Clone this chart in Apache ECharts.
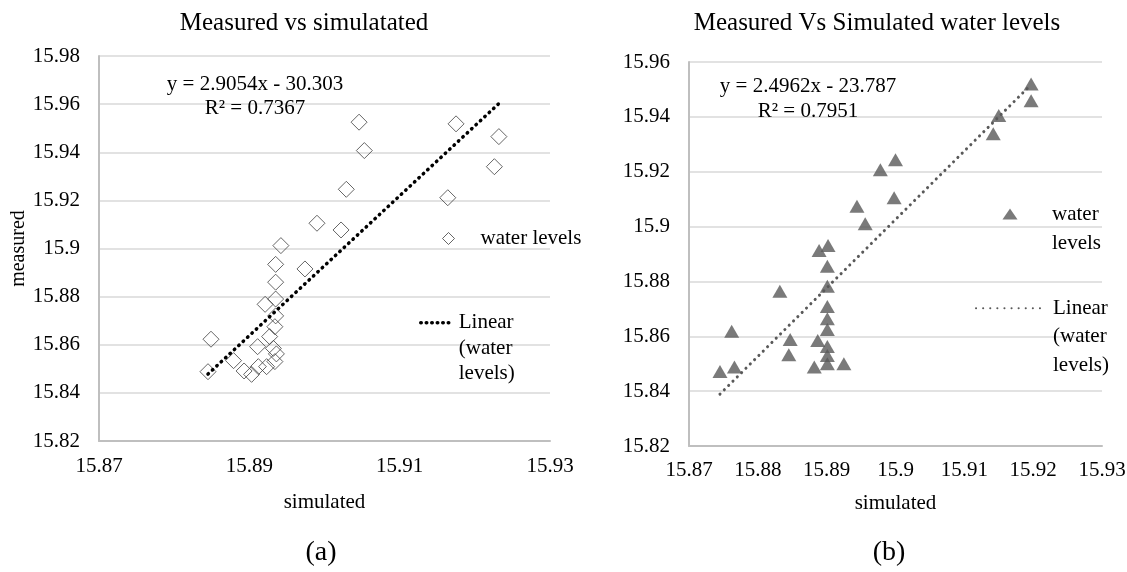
<!DOCTYPE html>
<html>
<head>
<meta charset="utf-8">
<script src="https://cdn.jsdelivr.net/npm/echarts@6/dist/echarts.min.js"></script>
<style>
  html, body { margin: 0; padding: 0; background: #fff; }
  #chart { width: 1127px; height: 572px; }
</style>
</head>
<body>
<div id="chart"></div>
<script>
// (a) measured vs simulated water levels
const simulatedA = [15.8990, 15.9022, 15.8942, 15.8935, 15.8935, 15.8974, 15.8935, 15.8921,
  15.8935, 15.8934, 15.8927, 15.8911, 15.8932, 15.8936, 15.8934, 15.8923, 15.8912, 15.8893,
  15.8903, 15.8879, 15.8849, 15.8845, 15.9046, 15.9053, 15.9029, 15.9175, 15.9232, 15.9226, 15.9164];
const measuredA = [15.9105, 15.9077, 15.9012, 15.8934, 15.8860, 15.8915, 15.8790, 15.8768,
  15.8720, 15.8675, 15.8634, 15.8592, 15.8585, 15.8562, 15.8530, 15.8509, 15.8509, 15.8491,
  15.8477, 15.8534, 15.8623, 15.8488, 15.9525, 15.9407, 15.9246, 15.9518, 15.9465, 15.9340, 15.9211];
const slopeA = 2.9054;
const interceptA = -30.303;
const r2A = 0.7367;
const xTicksA = [15.87, 15.89, 15.91, 15.93];

// (b) measured vs simulated water levels
const simulatedB = [15.8889, 15.8902, 15.8901, 15.8901, 15.8832, 15.8901, 15.8901, 15.8901,
  15.8762, 15.8847, 15.8887, 15.8901, 15.8845, 15.8901, 15.8901, 15.8925, 15.8882, 15.8766,
  15.8745, 15.9197, 15.9197, 15.9150, 15.9142, 15.9000, 15.8978, 15.8998, 15.8944, 15.8956];
const measuredB = [15.8913, 15.8931, 15.8855, 15.8782, 15.8764, 15.8709, 15.8664, 15.8625,
  15.8618, 15.8588, 15.8585, 15.8563, 15.8533, 15.8530, 15.8500, 15.8500, 15.8488, 15.8488,
  15.8472, 15.9520, 15.9459, 15.9405, 15.9338, 15.9244, 15.9207, 15.9105, 15.9074, 15.9010];
const slopeB = 2.4962;
const interceptB = -23.787;
const r2B = 0.7951;

const SERIF = "'Liberation Serif', 'Times New Roman', serif";

const pairs = (xs, ys) => xs.map((x, i) => [x, ys[i]]);
// linear trendline spanning the simulated range
function trend(xs, slope, intercept) {
  const lo = Math.min(...xs), hi = Math.max(...xs);
  return [[lo, slope * lo + intercept], [hi, slope * hi + intercept]];
}
const eqText = (slope, intercept, r2) =>
  `y = ${slope}x ${intercept < 0 ? '-' : '+'} ${Math.abs(intercept)}\nR\u00B2 = ${r2}`;
// legend text is centred on its icon; leading blank lines keep the icon level with the first line
const firstLineOnIcon = lines => '\n'.repeat(lines.length - 1) + lines.join('\n');

const axisLineStyle = { show: true, lineStyle: { color: '#bfbfbf', width: 2 } };
const gridLine = { show: true, lineStyle: { color: '#d9d9d9', width: 1.5 } };
const tickText = { color: '#000', fontFamily: SERIF, fontSize: 21 };

const chart = echarts.init(document.getElementById('chart'), null, { renderer: 'canvas' });

chart.setOption({
  animation: false,
  backgroundColor: '#fff',
  textStyle: { fontFamily: SERIF },
  title: [
    { text: 'Measured vs simulatated', left: 304, top: 11, textAlign: 'center', padding: 0,
      textStyle: { fontFamily: SERIF, fontSize: 25, fontWeight: 'normal', color: '#000' } },
    { text: 'Measured Vs Simulated water levels', left: 877, top: 11, textAlign: 'center', padding: 0,
      textStyle: { fontFamily: SERIF, fontSize: 25, fontWeight: 'normal', color: '#000' } },
    { text: eqText(slopeA, interceptA, r2A), left: 255, top: 72, textAlign: 'center', padding: 0,
      textStyle: { fontFamily: SERIF, fontSize: 21, fontWeight: 'normal', color: '#000', lineHeight: 24 } },
    { text: eqText(slopeB, interceptB, r2B), left: 808, top: 74, textAlign: 'center', padding: 0,
      textStyle: { fontFamily: SERIF, fontSize: 21, fontWeight: 'normal', color: '#000', lineHeight: 25 } },
    { text: '(a)', left: 321, top: 539, textAlign: 'center', padding: 0,
      textStyle: { fontFamily: SERIF, fontSize: 28, fontWeight: 'normal', color: '#000' } },
    { text: '(b)', left: 889, top: 539, textAlign: 'center', padding: 0,
      textStyle: { fontFamily: SERIF, fontSize: 28, fontWeight: 'normal', color: '#000' } }
  ],
  legend: [
    { data: ['levelsA'], left: 442, top: 228, padding: 0, itemWidth: 12, itemHeight: 12,
      selectedMode: false, formatter: () => 'water levels',
      itemStyle: { borderWidth: 1, borderColor: '#404040', color: 'rgba(0,0,0,0)' },
      textStyle: { color: '#000', fontFamily: SERIF, fontSize: 21, padding: [0, 0, 0, 21] } },
    { data: ['linearA'], left: 419, top: 259, padding: 0, itemWidth: 33, itemHeight: 14,
      selectedMode: false, formatter: () => firstLineOnIcon(['Linear', '(water', 'levels)']),
      itemStyle: { opacity: 0 },
      lineStyle: { color: '#000', width: 3.5, type: [0.5, 5], cap: 'round' },
      textStyle: { color: '#000', fontFamily: SERIF, fontSize: 21, lineHeight: 25.5 } },
    { data: ['levelsB'], left: 1002.5, top: 170.5, padding: 0, itemWidth: 15, itemHeight: 11,
      symbolKeepAspect: false, selectedMode: false, formatter: () => firstLineOnIcon(['water', 'levels']),
      itemStyle: { borderWidth: 0, color: '#595959' },
      textStyle: { color: '#000', fontFamily: SERIF, fontSize: 21, lineHeight: 29, padding: [0, 0, 0, 29.5] } },
    { data: ['linearB'], left: 975, top: 237, padding: 0, itemWidth: 68, itemHeight: 14,
      selectedMode: false, formatter: () => firstLineOnIcon(['Linear', '(water', 'levels)']),
      itemStyle: { opacity: 0 },
      lineStyle: { color: '#595959', width: 2, type: [0.1, 7], cap: 'round' },
      textStyle: { color: '#000', fontFamily: SERIF, fontSize: 21, lineHeight: 28.5, padding: [0, 0, 0, 4] } }
  ],
  grid: [
    { left: 99, top: 56, width: 451, height: 385, outerBoundsMode: 'none' },
    { left: 689, top: 62, width: 413, height: 384, outerBoundsMode: 'none' }
  ],
  xAxis: [
    { type: 'value', gridIndex: 0, min: 15.87, max: 15.93, interval: 0.01,
      name: 'simulated', nameLocation: 'middle', nameGap: 51,
      nameTextStyle: { color: '#000', fontFamily: SERIF, fontSize: 21 },
      axisLine: axisLineStyle, axisTick: { show: false }, splitLine: { show: false },
      axisLabel: Object.assign({ margin: 15,
        formatter: v => xTicksA.some(t => Math.abs(t - v) < 1e-6) ? v.toFixed(2) : '' }, tickText) },
    { type: 'value', gridIndex: 1, min: 15.87, max: 15.93, interval: 0.01,
      name: 'simulated', nameLocation: 'middle', nameGap: 47,
      nameTextStyle: { color: '#000', fontFamily: SERIF, fontSize: 21 },
      axisLine: axisLineStyle, axisTick: { show: false }, splitLine: { show: false },
      axisLabel: Object.assign({ margin: 14 }, tickText) }
  ],
  yAxis: [
    { type: 'value', gridIndex: 0, min: 15.82, max: 15.98, interval: 0.02,
      name: 'measured', nameLocation: 'middle', nameGap: 68, nameRotate: 90,
      nameTextStyle: { color: '#000', fontFamily: SERIF, fontSize: 20 },
      axisLine: axisLineStyle, axisTick: { show: false }, splitLine: gridLine,
      axisLabel: Object.assign({ margin: 19 }, tickText) },
    { type: 'value', gridIndex: 1, min: 15.82, max: 15.96, interval: 0.02,
      axisLine: axisLineStyle, axisTick: { show: false }, splitLine: gridLine,
      axisLabel: Object.assign({ margin: 19 }, tickText) }
  ],
  series: [
    { name: 'levelsA', type: 'scatter', xAxisIndex: 0, yAxisIndex: 0,
      data: pairs(simulatedA, measuredA), symbol: 'diamond', symbolSize: 16,
      itemStyle: { color: 'rgba(0,0,0,0)', borderColor: '#404040', borderWidth: 1 } },
    { name: 'linearA', type: 'line', xAxisIndex: 0, yAxisIndex: 0,
      data: trend(simulatedA, slopeA, interceptA), symbol: 'none',
      itemStyle: { color: '#000' },
      lineStyle: { color: '#000', width: 3.5, type: [0.5, 5.5], cap: 'round' } },
    { name: 'linearB', type: 'line', xAxisIndex: 1, yAxisIndex: 1,
      data: trend(simulatedB, slopeB, interceptB), symbol: 'none',
      itemStyle: { color: '#595959' },
      lineStyle: { color: '#595959', width: 3, type: [0.1, 6], cap: 'round' } },
    { name: 'levelsB', type: 'scatter', xAxisIndex: 1, yAxisIndex: 1,
      data: pairs(simulatedB, measuredB), symbol: 'triangle', symbolSize: [15, 13],
      itemStyle: { color: '#595959' } }
  ]
});
</script>
</body>
</html>
